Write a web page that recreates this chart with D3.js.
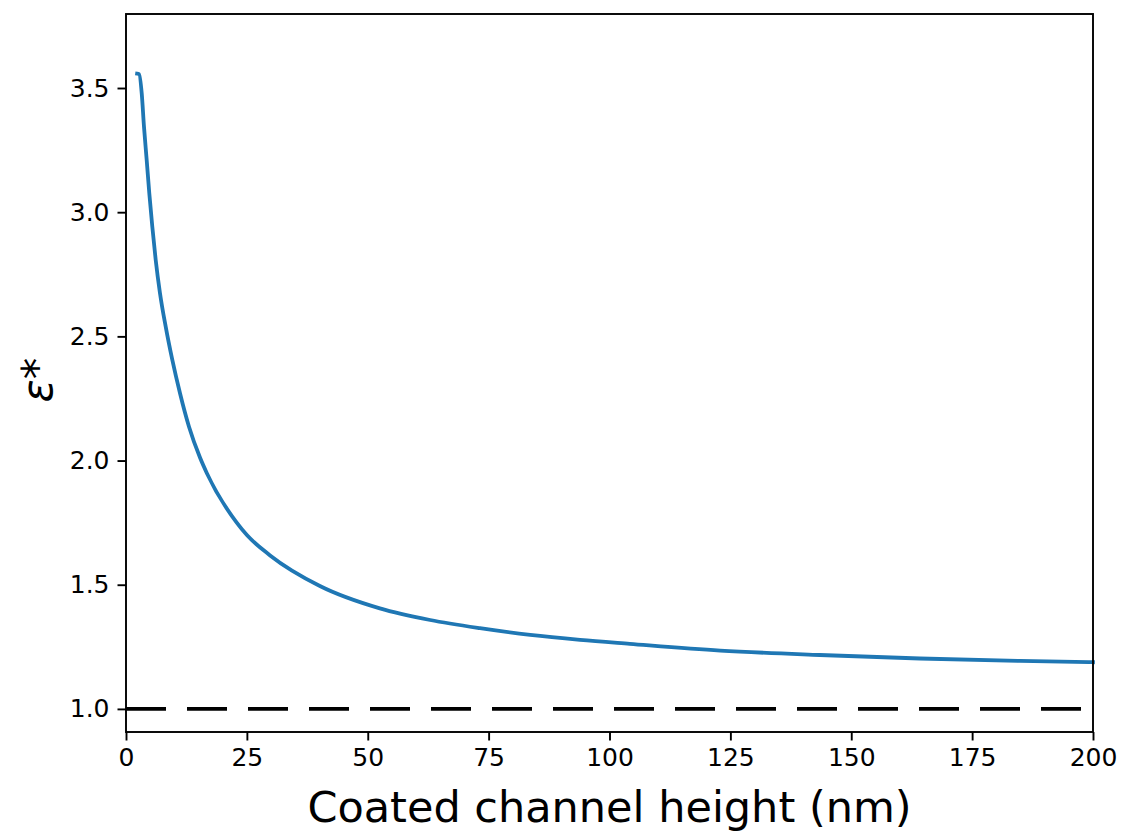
<!DOCTYPE html>
<html>
<head>
<meta charset="utf-8">
<script src="https://cdn.jsdelivr.net/npm/d3@7"></script>
<style>
  body { margin: 0; background: #fff; }
  text { font-family: "DejaVu Sans", sans-serif; }
</style>
</head>
<body>
<script>
// channel height (nm) and effective permittivity
const heights = [2.3, 2.7, 3.25, 3.72, 4.28, 4.82, 5.44, 6.14, 7.03, 8.21, 9.58, 11.17, 13.03, 15.3, 16.7, 22.9, 25, 29.8, 40.1, 52.5, 62.9, 73.2, 83.6, 93.9, 104.2, 122.9, 143.5, 164.2, 184.9, 200];
const epsValues = [3.558, 3.556, 3.479, 3.344, 3.21, 3.076, 2.942, 2.808, 2.674, 2.539, 2.405, 2.271, 2.136, 2.012, 1.95, 1.75, 1.70, 1.618, 1.495, 1.405, 1.358, 1.325, 1.298, 1.278, 1.262, 1.235, 1.217, 1.203, 1.193, 1.188];
const referenceLevel = [1.0, 1.0];
const referenceRange = [0, 200];
const xTicks = [0, 25, 50, 75, 100, 125, 150, 175, 200];
const yTicks = [1.0, 1.5, 2.0, 2.5, 3.0, 3.5];

const width = 1123;
const height = 835;
const margin = { top: 14, right: 30, bottom: 103, left: 126 };

const svg = d3.select('body')
    .append('svg')
    .attr('width', width)
    .attr('height', height);

const x = d3.scaleLinear()
    .domain([0, 200])
    .range([margin.left, width - margin.right]);

const y = d3.scaleLinear()
    .domain([0.907, 3.798])
    .range([height - margin.bottom, margin.top]);

const points = heights.map((h, i) => [h, epsValues[i]]);

const line = d3.line()
    .x(d => x(d[0]))
    .y(d => y(d[1]))
    .curve(d3.curveMonotoneX);

svg.append('path')
    .datum(points)
    .attr('d', line)
    .attr('fill', 'none')
    .attr('stroke', '#1f77b4')
    .attr('stroke-width', 3.8)
    .attr('stroke-linecap', 'square');

svg.append('path')
    .datum(referenceRange.map((h, i) => [h, referenceLevel[i]]))
    .attr('d', d3.line().x(d => x(d[0])).y(d => y(d[1])))
    .attr('fill', 'none')
    .attr('stroke', '#000')
    .attr('stroke-width', 3.6)
    .attr('stroke-dasharray', '40,21');

// axes
const xAxis = svg.append('g')
    .attr('transform', `translate(0, ${height - margin.bottom})`)
    .call(d3.axisBottom(x).tickValues(xTicks).tickSize(8.5).tickPadding(8).tickFormat(d3.format('d')));

const yAxis = svg.append('g')
    .attr('transform', `translate(${margin.left}, 0)`)
    .call(d3.axisLeft(y).tickValues(yTicks).tickSize(8.5).tickPadding(8).tickFormat(d3.format('.1f')));

[xAxis, yAxis].forEach(g => {
    g.select('.domain').remove();
    g.selectAll('.tick line').attr('stroke', '#000').attr('stroke-width', 1.9);
    g.selectAll('.tick text')
        .attr('fill', '#000')
        .style('font-size', '25px')
        .style('font-family', '"DejaVu Sans", sans-serif');
});

// frame
svg.append('rect')
    .attr('x', margin.left)
    .attr('y', margin.top)
    .attr('width', width - margin.left - margin.right)
    .attr('height', height - margin.top - margin.bottom)
    .attr('fill', 'none')
    .attr('stroke', '#000')
    .attr('stroke-width', 1.9);

svg.append('text')
    .attr('x', (margin.left + width - margin.right) / 2)
    .attr('y', 822)
    .attr('text-anchor', 'middle')
    .style('font-size', '43px')
    .text('Coated channel height (nm)');

const yLabel = svg.append('text')
    .attr('transform', 'translate(52, 380) rotate(-90)')
    .attr('text-anchor', 'middle')
    .style('font-size', '43px');

yLabel.append('tspan').style('font-style', 'italic').text('ε');
yLabel.append('tspan').text('*');
</script>
</body>
</html>
